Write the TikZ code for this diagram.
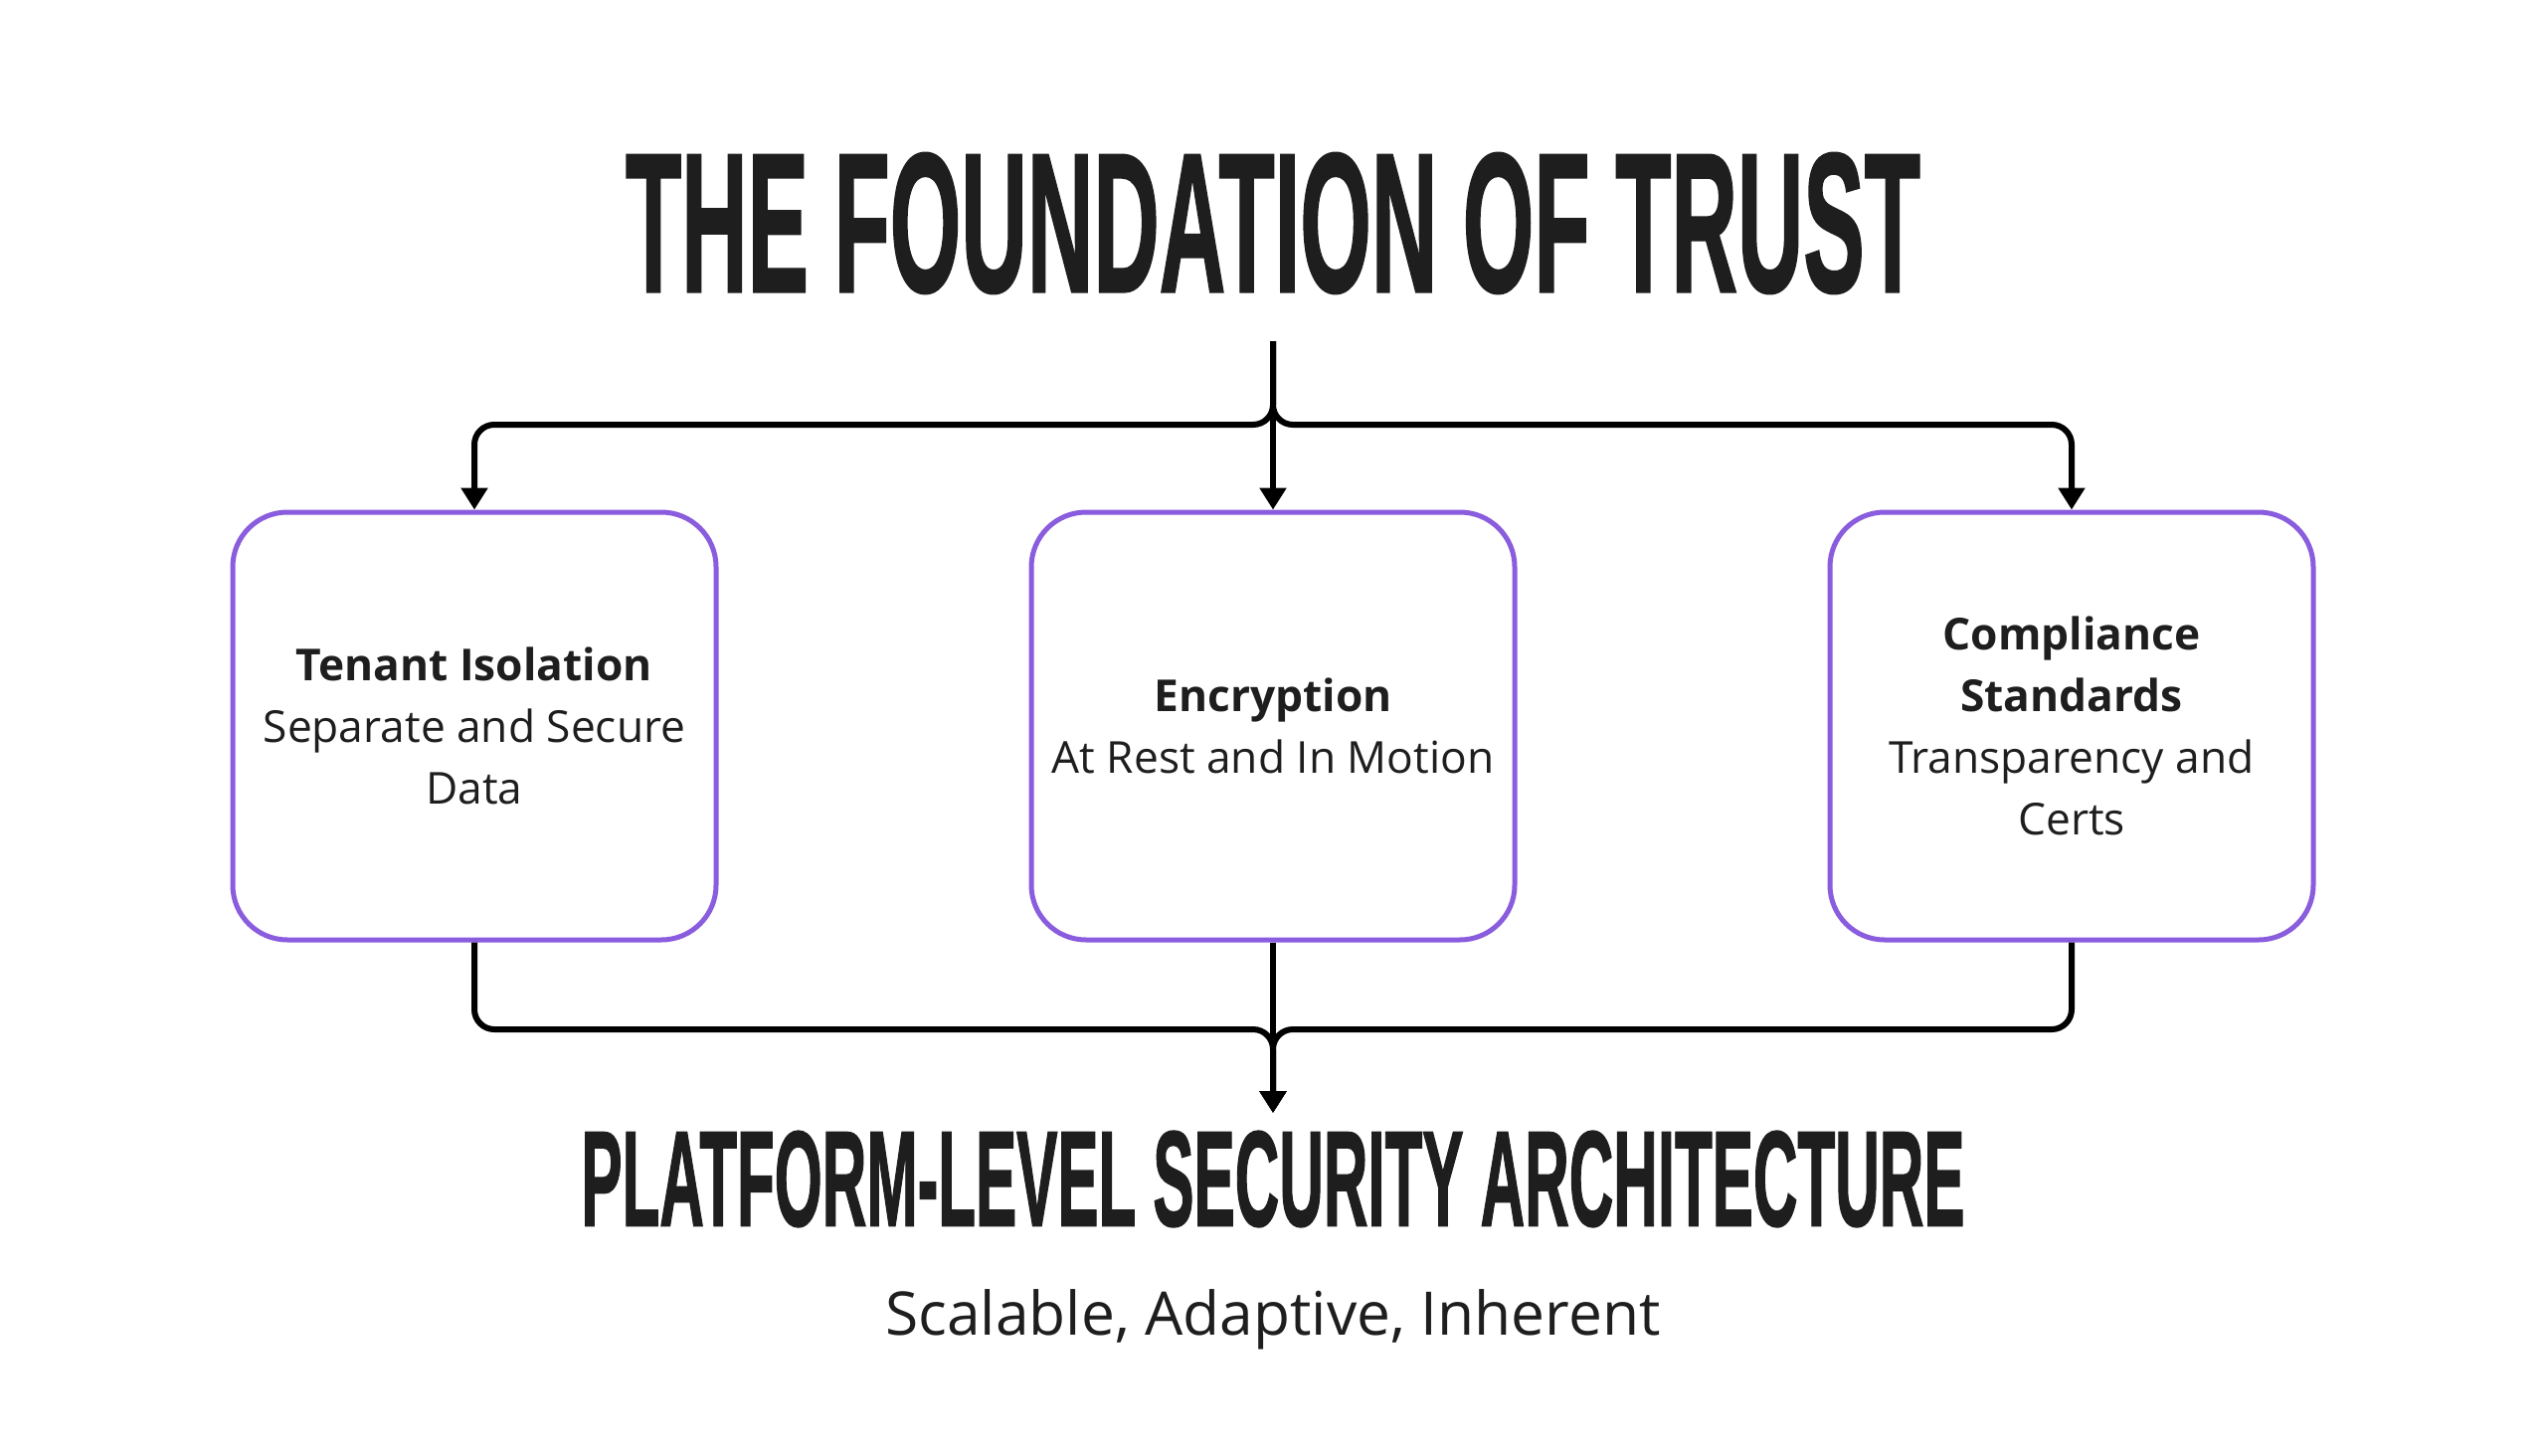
\documentclass[tikz,border=0pt]{standalone}
\usepackage{fontspec}
\setmainfont{Open Sans}
\newfontfamily\headfont[FakeBold=1.5]{Liberation Sans}
\usetikzlibrary{positioning,arrows.meta}
\definecolor{ink}{HTML}{1E1E1E}
\definecolor{boxpurple}{HTML}{8A5CDE}

\begin{document}
\begin{tikzpicture}[
        every node/.style={text=ink},
        heading/.style={inner sep=0pt},
        pillar/.style={rectangle, draw=boxpurple, line width=0.05cm, rounded corners=0.55cm,
            minimum width=4.86cm, minimum height=4.3cm, align=center,
            font=\fontsize{12.6}{17.6}\selectfont},
        link/.style={line width=0.06cm, rounded corners=0.2cm},
        arrow/.style={link, -{Triangle[length=0.22cm, width=0.26cm]}}
    ]
    \fill[white] (0,0) rectangle (25.6,-14.63);
    \useasboundingbox (0,0) rectangle (25.6,-14.63);

    \node[heading] (title) at (12.8,-2.245)
        {\resizebox{13.02cm}{1.39cm}{\headfont\bfseries THE FOUNDATION OF TRUST}};

    \node[pillar] (encrypt) at (12.8,-7.3) {\textbf{Encryption}\\At Rest and In Motion};
    \node[pillar, left=3.12cm of encrypt] (tenant) {\textbf{Tenant Isolation}\\Separate and Secure\\Data};
    \node[pillar, right=3.12cm of encrypt] (comply) {\textbf{Compliance}\\\textbf{Standards}\\Transparency and\\Certs};

    \coordinate (stem) at (12.8,-3.43);
    \coordinate (split) at (12.8,-4.27);
    \coordinate (merge) at (12.8,-10.35);
    \coordinate (tip) at (12.8,-11.19);

    \draw[arrow] (stem) -- (encrypt.north);
    \draw[arrow] (encrypt.south) -- (tip);
    \foreach \b in {tenant,comply} {
        \draw[arrow] (stem) -- (split) -| (\b.north);
        \draw[arrow] (\b.south) |- (merge) -- (tip);
    }

    \node[heading] (base) at (12.8,-11.855)
        {\resizebox{13.91cm}{0.95cm}{\headfont\bfseries PLATFORM-LEVEL SECURITY ARCHITECTURE}};
    \node[anchor=base, font=\fontsize{17.2}{21}\selectfont] (tagline) at (12.8,-13.42)
        {Scalable, Adaptive, Inherent};
\end{tikzpicture}
\end{document}
